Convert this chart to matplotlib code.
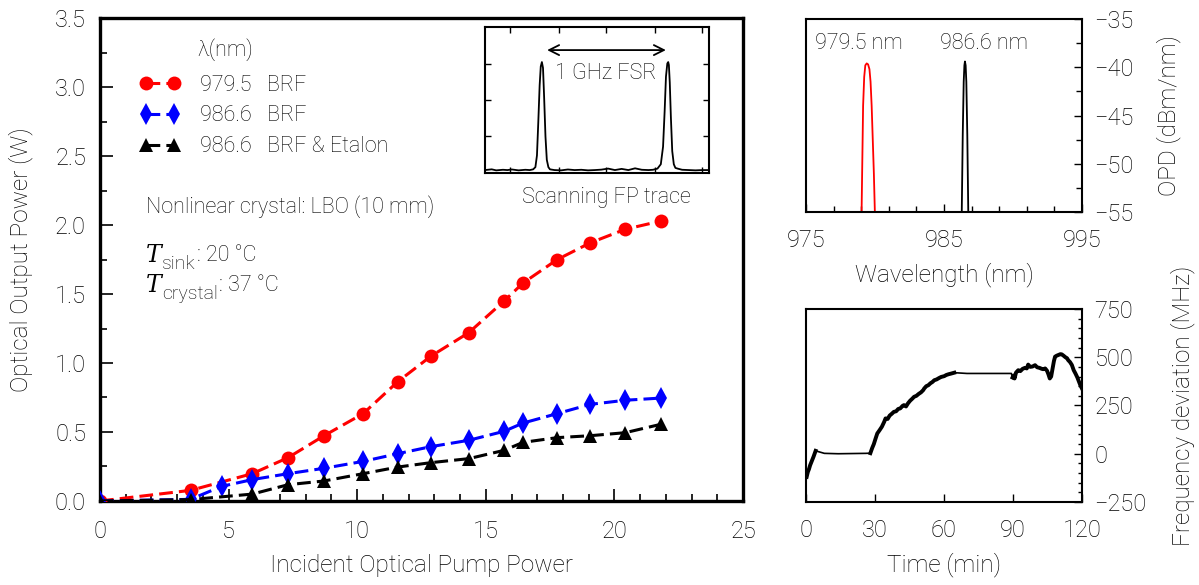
import numpy as np
import matplotlib
matplotlib.use("Agg")
import matplotlib.pyplot as plt
from matplotlib.ticker import MultipleLocator, FixedLocator
from matplotlib.transforms import offset_copy

plt.rcParams['font.family'] = ['Roboto', 'DejaVu Sans']
plt.rcParams['font.weight'] = 'light'
plt.rcParams['axes.labelweight'] = 'light'

# ---------------- main data ----------------
pump_red = [0, 3.52, 5.92, 7.31, 8.71, 10.23, 11.58, 12.87, 14.34, 15.71, 16.45, 17.77, 19.05, 20.42, 21.81]
power_red = [0.0, 0.077, 0.198, 0.314, 0.473, 0.633, 0.865, 1.05, 1.22, 1.449, 1.58, 1.749, 1.87, 1.969, 2.029]

pump_blue = [0, 3.52, 4.73, 5.92, 7.31, 8.71, 10.23, 11.58, 12.87, 14.34, 15.71, 16.45, 17.77, 19.05, 20.42, 21.81]
power_blue = [0.0, 0.012, 0.106, 0.155, 0.198, 0.237, 0.287, 0.343, 0.394, 0.44, 0.505, 0.565, 0.633, 0.70, 0.73, 0.746]

pump_black = [0, 3.52, 5.92, 7.31, 8.71, 10.23, 11.58, 12.87, 14.34, 15.71, 16.45, 17.77, 19.05, 20.42, 21.81]
power_black = [0.0, 0.01, 0.05, 0.118, 0.145, 0.198, 0.246, 0.278, 0.307, 0.367, 0.425, 0.459, 0.473, 0.495, 0.556]

legend_wl = ['979.5', '986.6', '986.6']
legend_cfg = ['BRF', 'BRF', 'BRF & Etalon']

temp_names = ['sink', 'crystal']
temp_values = [': 20 °C', ': 37 °C']

# ---------------- inset FP trace ----------------
fp_x = [0.0, 0.03, 0.05, 0.08, 0.10, 0.12, 0.15, 0.18, 0.20, 0.215, 0.225, 0.232, 0.238, 0.244, 0.249, 0.254,
        0.259, 0.264, 0.270, 0.276, 0.283, 0.29, 0.31, 0.34, 0.37, 0.40, 0.43, 0.46, 0.49, 0.52, 0.55, 0.58,
        0.61, 0.64, 0.67, 0.70, 0.73, 0.75, 0.77, 0.785, 0.795, 0.802, 0.808, 0.814, 0.818, 0.821, 0.825,
        0.830, 0.836, 0.843, 0.85, 0.86, 0.88, 0.91, 0.94, 0.97, 1.0]
fp_y = [0.02, 0.025, 0.018, 0.022, 0.02, 0.024, 0.018, 0.022, 0.02, 0.025, 0.04, 0.12, 0.35, 0.60, 0.73, 0.76,
        0.72, 0.52, 0.25, 0.09, 0.04, 0.025, 0.02, 0.018, 0.024, 0.02, 0.022, 0.018, 0.02, 0.023, 0.03, 0.02,
        0.028, 0.02, 0.032, 0.022, 0.02, 0.022, 0.03, 0.06, 0.18, 0.42, 0.66, 0.75, 0.76, 0.74, 0.62,
        0.38, 0.15, 0.06, 0.035, 0.03, 0.022, 0.02, 0.018, 0.02, 0.02]

# ---------------- spectrum ----------------
wl_red = [979.02, 979.08, 979.14, 979.22, 979.30, 979.40, 979.50, 979.60, 979.68, 979.76, 979.84, 979.92, 980.01]
opd_red = [-56.0, -50.0, -44.0, -41.0, -39.8, -39.6, -39.7, -40.2, -41.5, -44.0, -47.5, -51.0, -56.0]
wl_black = [986.28, 986.36, 986.43, 986.48, 986.52, 986.57, 986.62, 986.69, 986.77]
opd_black = [-56.0, -47.0, -41.5, -39.8, -39.4, -39.8, -41.5, -47.0, -56.0]
peak_labels = ['979.5 nm', '986.6 nm']

# ---------------- frequency deviation ----------------
time_min = [0.3, 0.8, 1.3, 1.8, 2.3, 2.8, 3.3, 3.9, 4.2, 8, 14, 20, 26, 28.0,
            28.8, 29.5, 30.3, 31.0, 32.0, 33.0, 34.0, 34.6, 35.5, 36.4, 37.3, 38.2, 39.2, 40.1, 41.0, 42.0,
            42.6, 43.5, 44.4, 45.3, 46.2, 47.0, 48.0, 49.0, 50.0, 51.0, 51.4, 52.3, 53.2, 54.1, 55.0, 55.8,
            56.8, 57.8, 58.8, 60.1, 61.0, 62.0, 63.0, 64.5, 70, 76, 82, 88, 89.3,
            89.8, 90.2, 90.7, 91.3, 92.3, 93.2, 94.2, 95.2, 96.0, 96.6, 97.5, 98.5, 99.6, 100.5, 101.5, 102.5,
            103.2, 104.0, 104.8, 105.4, 106.0, 106.6, 107.2, 107.8, 108.3, 109.0, 109.8, 110.6, 111.2, 112.0,
            112.8, 113.5, 114.0, 114.8, 115.6, 116.4, 117.2, 118.0, 118.8, 119.4, 120.0]
freq_dev = [-120, -95, -80, -60, -45, -30, -15, 5, 15, 2, 0, 1, 2, 3,
            30, 50, 80, 105, 122, 140, 165, 183, 180, 198, 207, 217, 220, 232, 235, 248,
            252, 245, 262, 275, 285, 295, 300, 310, 318, 330, 338, 350, 355, 365, 372, 381,
            385, 392, 398, 402, 408, 412, 415, 420, 416, 416, 416, 416, 416,
            395, 405, 390, 420, 433, 428, 440, 445, 442, 462, 450, 452, 459, 448, 445, 440,
            438, 442, 430, 412, 390, 400, 440, 480, 503, 508, 512, 516, 515, 508,
            500, 495, 485, 475, 460, 433, 415, 395, 370, 352, 338]

# ---------------- figure ----------------
fig = plt.figure(figsize=(11.99, 5.85), dpi=100)

ax = fig.add_axes([0.0834, 0.1436, 0.5363, 0.8256])
dash = (0, (4.5, 2.0))
ax.plot(pump_red, power_red, color='#ff0000', lw=2.2, ls=dash, marker='o', ms=10,
        markeredgewidth=0, label=f'{legend_wl[0]}   {legend_cfg[0]}', zorder=3)
ax.plot(pump_blue, power_blue, color='#0000ff', lw=2.2, ls=dash, marker='d', ms=11,
        markeredgewidth=0, label=f'{legend_wl[1]}   {legend_cfg[1]}', zorder=4)
ax.plot(pump_black, power_black, color='black', lw=2.2, ls=dash, marker='^', ms=10,
        markeredgewidth=0, label=f'{legend_wl[2]}   {legend_cfg[2]}', zorder=5)
ax.set_xlim(0, 25)
ax.set_ylim(0, 3.5)
ax.xaxis.set_major_locator(MultipleLocator(5))
ax.xaxis.set_minor_locator(MultipleLocator(1))
ax.yaxis.set_major_locator(MultipleLocator(0.5))
ax.yaxis.set_minor_locator(MultipleLocator(0.25))
ax.yaxis.set_major_formatter(matplotlib.ticker.FormatStrFormatter('%.1f'))
ax.tick_params(which='both', direction='in', top=False, right=False, width=1.2, labelsize=17)
ax.tick_params(axis='x', which='major', length=9, pad=14)
ax.tick_params(axis='y', which='major', length=9, pad=10)
ax.tick_params(which='minor', length=5)
for s in ax.spines.values():
    s.set_linewidth(2.4)
ax.set_xlabel('Incident Optical Pump Power', fontsize=17.5, fontweight='light')
ax.set_ylabel('Optical Output Power (W)', fontsize=17.5, fontweight='light')
ax.xaxis.set_label_coords(0.5, -0.11)
ax.yaxis.set_label_coords(-0.104, 0.5)

leg = ax.legend(loc='upper left', bbox_to_anchor=(0.045, 0.905), frameon=False, numpoints=2,
                handlelength=1.9, handletextpad=0.9, labelspacing=0.45, borderpad=0,
                prop={'family': ['Roboto', 'DejaVu Sans'], 'weight': 'light', 'size': 15.5})
ax.text(0.151, 0.935, 'λ(nm)', transform=ax.transAxes, fontsize=15.5, va='center', ha='left')
ax.text(0.072, 0.61, 'Nonlinear crystal: LBO (10 mm)', transform=ax.transAxes, fontsize=15.5, va='center')

# T_sink / T_crystal with large subscripts
for i, (nm, val) in enumerate(zip(temp_names, temp_values)):
    ybase = 0.495 - i * 0.062
    tT = ax.text(0.072, ybase, 'T', transform=ax.transAxes, family='DejaVu Serif', style='italic',
                 fontsize=17, va='baseline', ha='left')
    tsub = ax.text(0.0, 0.0, nm, transform=offset_copy(ax.transAxes, fig=fig, x=11.5, y=-5.0, units='points'),
                   fontsize=14, va='baseline', ha='left')
    tsub.set_x(0.072)
    tsub.set_y(ybase)
    ax.annotate(val, xy=(1, 0), xycoords=tsub, xytext=(0.5, 5.0), textcoords='offset points',
                fontsize=15.5, va='bottom', ha='left')

# inset
axi = fig.add_axes([0.4045, 0.7043, 0.1868, 0.2495])
axi.plot(fp_x, fp_y, color='black', lw=1.3)
axi.set_xlim(0, 1)
axi.set_ylim(0, 1)
axi.set_xticks([0.11, 0.33, 0.54, 0.76, 0.97])
axi.set_yticks([0.25, 0.5, 0.75])
axi.tick_params(which='both', direction='in', top=True, right=True, length=4, width=1,
                labelbottom=False, labelleft=False)
for s in axi.spines.values():
    s.set_linewidth(1.5)
axi.annotate('', xy=(0.265, 0.842), xytext=(0.82, 0.842),
             arrowprops=dict(arrowstyle='<->', lw=1.3, color='black', mutation_scale=18))
axi.text(0.54, 0.685, '1 GHz FSR', fontsize=15.5, ha='center', va='center')
axi.text(0.54, -0.17, 'Scanning FP trace', fontsize=15.5, ha='center', va='center')

# spectrum
axs = fig.add_axes([0.6722, 0.6376, 0.2302, 0.3299])
axs.plot(wl_red, opd_red, color='#ff0000', lw=1.3)
axs.plot(wl_black, opd_black, color='black', lw=1.3)
axs.set_xlim(975, 995)
axs.set_ylim(-55, -35)
axs.xaxis.set_major_locator(FixedLocator([975, 985, 995]))
axs.xaxis.set_minor_locator(MultipleLocator(2, offset=1))
axs.yaxis.set_major_locator(MultipleLocator(5))
axs.yaxis.set_minor_locator(MultipleLocator(2.5))
axs.yaxis.tick_right()
axs.yaxis.set_label_position('right')
axs.tick_params(which='both', direction='in', left=False, right=True, top=False, width=1, labelsize=17)
axs.tick_params(which='major', length=6)
axs.tick_params(which='minor', length=4)
axs.tick_params(axis='x', pad=12)
axs.tick_params(axis='y', pad=9)
for s in axs.spines.values():
    s.set_linewidth(1.5)
axs.yaxis.set_major_formatter(matplotlib.ticker.FuncFormatter(lambda v, p: f'{v:.0f}'.replace('-', '\u2212')))
axs.set_xlabel('Wavelength (nm)', fontsize=17.5, fontweight='light')
axs.set_ylabel('OPD (dBm/nm)', fontsize=17.5, fontweight='light')
axs.xaxis.set_label_coords(0.5, -0.26)
axs.yaxis.set_label_coords(1.27, 0.5)
axs.text(978.8, -37.5, peak_labels[0], fontsize=15.5, ha='center', va='center')
axs.text(987.9, -37.5, peak_labels[1], fontsize=15.5, ha='center', va='center')

# frequency deviation
axf = fig.add_axes([0.6722, 0.1419, 0.2302, 0.3299])
axf.plot(time_min, freq_dev, color='black', lw=1.2)
axf.plot(time_min[:9], freq_dev[:9], color='black', lw=2.8)
axf.plot(time_min[13:54], freq_dev[13:54], color='black', lw=2.8)
axf.plot(time_min[59:], freq_dev[59:], color='black', lw=2.8)
axf.set_xlim(0, 120)
axf.set_ylim(-250, 750)
axf.xaxis.set_major_locator(MultipleLocator(30))
axf.yaxis.set_major_locator(MultipleLocator(250))
axf.yaxis.set_minor_locator(MultipleLocator(50))
axf.yaxis.tick_right()
axf.yaxis.set_label_position('right')
axf.tick_params(which='both', direction='in', left=False, right=True, top=False, width=1, labelsize=17)
axf.tick_params(which='major', length=6)
axf.tick_params(which='minor', length=3)
axf.tick_params(axis='x', pad=12)
axf.tick_params(axis='y', pad=9)
for s in axf.spines.values():
    s.set_linewidth(1.5)
axf.yaxis.set_major_formatter(matplotlib.ticker.FuncFormatter(lambda v, p: f'{v:.0f}'.replace('-', '\u2212')))
axf.set_xlabel('Time (min)', fontsize=17.5, fontweight='light')
axf.set_ylabel('Frequency deviation (MHz)', fontsize=17.5, fontweight='light')
axf.xaxis.set_label_coords(0.5, -0.26)
axf.yaxis.set_label_coords(1.32, 0.5)

fig.savefig('out.png', dpi=100)
